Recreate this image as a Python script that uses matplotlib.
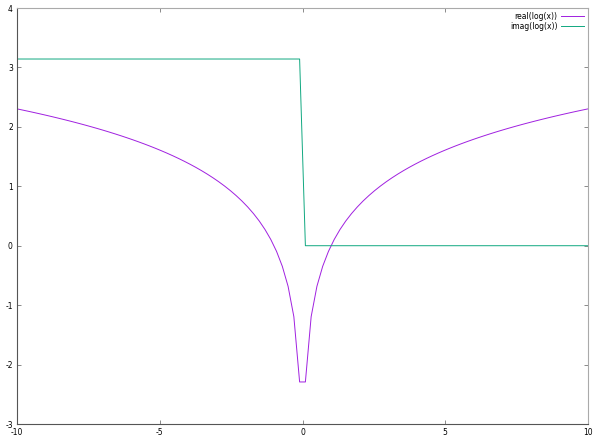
import matplotlib
matplotlib.use("Agg")
import matplotlib.pyplot as plt

# sample positions (right half; left half mirrored)
x_right = [0.10101, 0.30303, 0.50505, 0.70707, 0.90909, 1.11111, 1.31313, 1.51515,
           1.71717, 1.91919, 2.12121, 2.32323, 2.52525, 2.72727, 2.92929, 3.13131,
           3.33333, 3.53535, 3.73737, 3.93939, 4.14141, 4.34343, 4.54545, 4.74747,
           4.94949, 5.15152, 5.35354, 5.55556, 5.75758, 5.95960, 6.16162, 6.36364,
           6.56566, 6.76768, 6.96970, 7.17172, 7.37374, 7.57576, 7.77778, 7.97980,
           8.18182, 8.38384, 8.58586, 8.78788, 8.98990, 9.19192, 9.39394, 9.59596,
           9.79798, 10.0]
real_right = [-2.2925, -1.1939, -0.6832, -0.3466, -0.0953, 0.1054, 0.2724, 0.4155,
              0.5407, 0.6519, 0.7520, 0.8429, 0.9263, 1.0033, 1.0748, 1.1414,
              1.2040, 1.2628, 1.3184, 1.3710, 1.4210, 1.4686, 1.5141, 1.5576,
              1.5993, 1.6393, 1.6779, 1.7148, 1.7505, 1.7850, 1.8183, 1.8506,
              1.8818, 1.9122, 1.9416, 1.9702, 1.9979, 2.0250, 2.0513, 2.0769,
              2.1019, 2.1263, 2.1501, 2.1734, 2.1961, 2.2183, 2.2401, 2.2614,
              2.2822, 2.3026]
imag_left_value = 3.1416
imag_right_value = 0.0

x = [-v for v in reversed(x_right)] + x_right
real_vals = list(reversed(real_right)) + real_right
imag_vals = [imag_left_value] * len(x_right) + [imag_right_value] * len(x_right)

x_ticks = [-10, -5, 0, 5, 10]
y_ticks = [-3, -2, -1, 0, 1, 2, 3, 4]

fig = plt.figure(figsize=(6.0, 4.42), dpi=100)
ax = fig.add_axes([17 / 600, 1 - 424 / 442, (588 - 17) / 600, (424 - 8) / 442])

ax.plot(x, real_vals, color="#a020e0", lw=0.7, label="real(log(x))")
ax.plot(x, imag_vals, color="#10a880", lw=0.7, label="imag(log(x))")

ax.set_xlim(-10, 10)
ax.set_ylim(-3, 4)
ax.set_xticks(x_ticks)
ax.set_yticks(y_ticks)
ax.set_xticklabels([str(t) for t in x_ticks])
ax.set_yticklabels([str(t) for t in y_ticks])
ax.tick_params(direction="in", length=3, width=0.6, labelsize=5.5, top=True, right=True,
               colors="#777777", labelcolor="black")
ax.tick_params(axis="x", pad=3)
ax.tick_params(axis="y", pad=3)
for name, s in ax.spines.items():
    s.set_linewidth(0.8)
    s.set_color("#555555" if name in ("left", "bottom") else "#aaaaaa")

leg = ax.legend(loc="upper right", markerfirst=False, frameon=False, fontsize=5.5,
                handlelength=3.0, handletextpad=0.5, labelspacing=0.15,
                borderaxespad=0.2, borderpad=0.3)

fig.savefig("out.png", dpi=100)
